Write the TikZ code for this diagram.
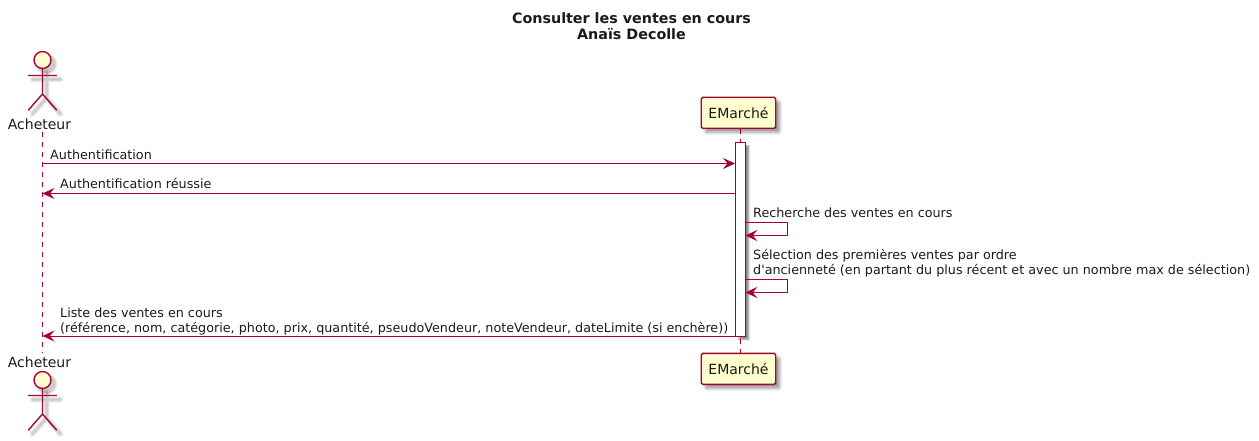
\documentclass[tikz,border=0pt]{standalone}
\usepackage{fontspec}
\setmainfont{DejaVu Sans}
\usetikzlibrary{arrows.meta, positioning, shadows.blur}
\definecolor{umlred}{HTML}{A80036}
\definecolor{umlfill}{HTML}{FEFECE}
\definecolor{umltext}{HTML}{1A1A1A}

\tikzset{
    partbox/.style={draw=umlred, fill=umlfill, line width=1.4pt, rounded corners=1.5pt, inner sep=0pt,
        minimum width=74.5pt, minimum height=31pt, text=umltext, font=\fontsize{14}{16}\selectfont,
        blur shadow={shadow xshift=4pt, shadow yshift=-4pt, shadow blur radius=3pt, shadow blur steps=6, shadow opacity=40}},
    actlabel/.style={anchor=base, inner sep=0pt, text=umltext, font=\fontsize{14}{16}\selectfont},
    msglabel/.style={anchor=base west, inner sep=0pt, text=umltext, align=left},
    msg/.style={draw=umlred, line width=1pt, -{Stealth[length=12pt, width=11pt, inset=4.5pt]}},
    lifeline/.style={draw=umlred, line width=1pt, dash pattern=on 5pt off 5pt},
    stick/.style={line width=1.4pt, line cap=round}
}

\begin{document}
\begin{tikzpicture}[x=1pt, y=-1pt, font=\fontsize{12.75}{15.2}\selectfont]
    \useasboundingbox (0,0) rectangle (1259,441);

    % title
    \node[inner sep=0pt, align=center, text=umltext, font=\fontsize{14.3}{15.8}\selectfont\bfseries] (title) at (631.5,26.5)
        {Consulter les ventes en cours\\Anaïs Decolle};

    % lifelines
    \coordinate (acheteurtop) at (42.5,132);
    \coordinate (acheteurbot) at (42.5,353);
    \coordinate (emarchetop) at (740.5,129);
    \coordinate (emarchebot) at (740.5,353);
    \draw[lifeline] (acheteurtop) -- (acheteurbot);
    \draw[lifeline] (emarchetop) -- (emarchebot);

    % actors, shadow first
    \foreach \nm/\y in {top/60, bot/380} {
        \begin{scope}[yshift={-(\y-60)*1pt}]
            \foreach \wd in {6,4.5,3,1.5} {
                \draw[draw=black, opacity=0.055, line width=\wd pt, line cap=round] (32.5,79.5) -- (60.5,79.5) (46.5,72) -- (46.5,98) -- (32.5,114) (46.5,98) -- (60.5,114);
                \fill[black, opacity=0.055] (46.5,64) circle ({8+\wd/2});
            }
            \draw[stick, draw=umlred] (42.5,68.5) -- (42.5,94) -- (28.5,110) (42.5,94) -- (56.5,110) (28.5,75.5) -- (56.5,75.5);
            \node[circle, draw=umlred, fill=umlfill, line width=1.4pt, minimum size=17pt, inner sep=0pt] (head\nm) at (42.5,60) {};
        \end{scope}
    }
    \node[actlabel] (acheteur) at (39.5,130) {Acheteur};
    \node[actlabel] (acheteurb) at (39.5,367) {Acheteur};

    % participant boxes
    \node[partbox] (emarche) at (738.5,112.8) {EMarché};
    \node[partbox] (emarcheb) at (738.5,368.8) {EMarché};

    % activation
    \node[draw=umlred, fill=white, line width=1pt, minimum width=10pt, minimum height=193.7pt, inner sep=0pt,
        blur shadow={shadow xshift=3.5pt, shadow yshift=-3.5pt, shadow blur radius=1.5pt, shadow blur steps=4, shadow opacity=45}] (activation) at (740.3,239.2) {};

    % messages
    \coordinate (a1) at (42.5,163.5);
    \coordinate (e1) at (735,163.5);
    \coordinate (a2) at (42.5,193.5);
    \coordinate (e2) at (735.3,193.5);
    \coordinate (a3) at (42.5,336);
    \coordinate (e3) at (735.3,336);
    \draw[msg] (a1) -- (e1);
    \draw[msg] (e2) -- (a2);
    \draw[msg] (e3) -- (a3);

    % self messages
    \coordinate (s1) at (745.3,222.5);
    \coordinate (s2) at (745.3,235.5);
    \coordinate (s3) at (745.3,279.5);
    \coordinate (s4) at (745.3,292.5);
    \draw[msg] (s1) -- ++(42.5,0) |- (s2);
    \draw[msg] (s3) -- ++(42.5,0) |- (s4);

    % labels
    \node[msglabel] (m1) at (50,159.5) {Authentification};
    \node[msglabel] (m2) at (60,188.5) {Authentification réussie};
    \node[msglabel] (m3) at (753,217.5) {Recherche des ventes en cours};
    \node[msglabel] (m4) at (753,259.5) {Sélection des premières ventes par ordre};
    \node[msglabel] (m5) at (753,274.5) {d\textquotesingle ancienneté (en partant du plus récent et avec un nombre max de sélection)};
    \node[msglabel] (m6) at (60,317) {Liste des ventes en cours};
    \node[msglabel] (m7) at (60,332) {(référence, nom, catégorie, photo, prix, quantité, pseudoVendeur, noteVendeur, dateLimite (si enchère))};
\end{tikzpicture}
\end{document}
